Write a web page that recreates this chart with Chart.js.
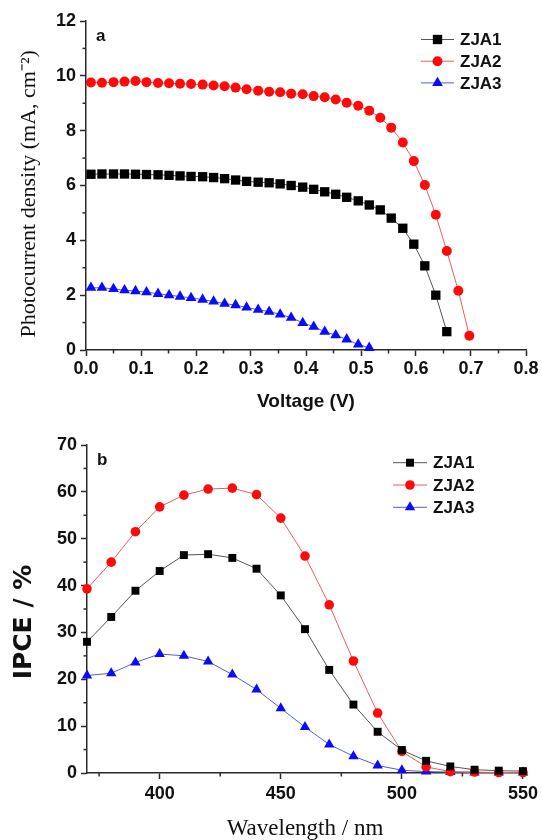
<!DOCTYPE html>
<html><head><meta charset="utf-8">
<script src="https://cdn.jsdelivr.net/npm/chart.js@4.4.1/dist/chart.umd.min.js"></script>
<style>
html,body{margin:0;padding:0;background:#fff;}
#wrap{position:relative;width:542px;height:840px;overflow:hidden;}
.c{position:absolute;left:0;width:542px;height:420px;}
</style></head><body>
<div id="wrap">
<div class="c" style="top:0"><canvas id="ca" width="542" height="420"></canvas></div>
<div class="c" style="top:420px"><canvas id="cb" width="542" height="420"></canvas></div>
</div>
<script>
// ---------- Panel a : J-V curves ----------
const SERIES_NAMES = ['ZJA1', 'ZJA2', 'ZJA3'];
const VOLTAGE = [0.009, 0.029, 0.050, 0.070, 0.090, 0.110, 0.131, 0.151, 0.171, 0.191,
                 0.212, 0.232, 0.252, 0.272, 0.292, 0.313, 0.333, 0.353, 0.373, 0.394,
                 0.414, 0.434, 0.454, 0.474, 0.495, 0.515, 0.535, 0.555, 0.576, 0.596,
                 0.616, 0.636, 0.656, 0.677, 0.697];
const J_ZJA1 = [6.41, 6.42, 6.42, 6.42, 6.41, 6.40, 6.39, 6.37, 6.35, 6.33,
                6.32, 6.29, 6.25, 6.20, 6.15, 6.12, 6.10, 6.06, 6.00, 5.94,
                5.86, 5.77, 5.68, 5.57, 5.44, 5.29, 5.11, 4.81, 4.44, 3.86,
                3.07, 2.00, 0.67];
const J_ZJA2 = [9.76, 9.75, 9.77, 9.79, 9.81, 9.77, 9.74, 9.73, 9.71, 9.70,
                9.68, 9.65, 9.62, 9.57, 9.51, 9.46, 9.42, 9.40, 9.35, 9.33,
                9.26, 9.22, 9.14, 9.02, 8.91, 8.73, 8.47, 8.11, 7.57, 6.89,
                6.02, 4.93, 3.61, 2.16, 0.52];
const J_ZJA3 = [2.27, 2.27, 2.23, 2.18, 2.15, 2.11, 2.05, 2.00, 1.95, 1.90,
                1.84, 1.77, 1.69, 1.64, 1.55, 1.47, 1.40, 1.30, 1.18, 0.99,
                0.85, 0.67, 0.54, 0.39, 0.20, 0.08];
const XA_MAJOR = [0, 0.1, 0.2, 0.3, 0.4, 0.5, 0.6, 0.7, 0.8];
const XA_LABELS = ['0.0', '0.1', '0.2', '0.3', '0.4', '0.5', '0.6', '0.7', '0.8'];
const XA_MINOR = [0.05, 0.15, 0.25, 0.35, 0.45, 0.55, 0.65, 0.75];
const YA_MAJOR = [0, 2, 4, 6, 8, 10, 12];
const YA_LABELS = ['0', '2', '4', '6', '8', '10', '12'];
const YA_MINOR = [1, 3, 5, 7, 9, 11];

// ---------- Panel b : IPCE ----------
const WAVELENGTH = [370, 380, 390, 400, 410, 420, 430, 440, 450, 460,
                    470, 480, 490, 500, 510, 520, 530, 540, 550];
const IPCE_ZJA1 = [28.0, 33.3, 38.9, 43.1, 46.5, 46.7, 45.9, 43.6, 37.9, 30.7,
                   22.0, 14.6, 8.8, 4.9, 2.6, 1.4, 0.7, 0.5, 0.4];
const IPCE_ZJA2 = [39.3, 45.0, 51.5, 56.8, 59.3, 60.6, 60.8, 59.4, 54.4, 46.3,
                   35.9, 23.9, 12.8, 4.6, 1.3, 0.3, 0.2, 0.1, 0.1];
const IPCE_ZJA3 = [20.8, 21.3, 23.6, 25.4, 25.0, 23.8, 21.0, 17.8, 13.8, 9.8,
                   6.1, 3.6, 1.6, 0.6, 0.3, 0.2, 0.1, 0.1, 0.1];
const XB_MAJOR = [400, 450, 500, 550];
const XB_LABELS = ['400', '450', '500', '550'];
const XB_MINOR = [375, 425, 475, 525];
const YB_MAJOR = [0, 10, 20, 30, 40, 50, 60, 70];
const YB_LABELS = ['0', '10', '20', '30', '40', '50', '60', '70'];
const YB_MINOR = [5, 15, 25, 35, 45, 55, 65];

// ---------- styles ----------
const AXIS = '#2a2a2a';
const SANS = "'Liberation Sans', Arial, sans-serif";
const SERIF = "'Liberation Serif', 'Times New Roman', serif";
const STYLE = [
  {fill: '#000000', line: '#555555', shape: 'rect'},
  {fill: '#ff0a0a', line: '#e06060', shape: 'circle'},
  {fill: '#0a0aff', line: '#5060d8', shape: 'triangle'}
];

function pts(xs, ys) { return ys.map((v, i) => ({x: xs[i], y: v})); }

function drawMarker(ctx, shape, r, x, y, color) {
  ctx.fillStyle = color;
  ctx.beginPath();
  if (shape === 'rect') {
    const s = Math.SQRT1_2 * r;
    ctx.rect(x - s, y - s, 2 * s, 2 * s);
  } else if (shape === 'circle') {
    ctx.arc(x, y, r, 0, Math.PI * 2);
  } else {
    ctx.moveTo(x, y - r);
    ctx.lineTo(x + r * Math.sin(2 * Math.PI / 3), y - r * Math.cos(2 * Math.PI / 3));
    ctx.lineTo(x + r * Math.sin(4 * Math.PI / 3), y - r * Math.cos(4 * Math.PI / 3));
    ctx.closePath();
  }
  ctx.fill();
}

const decor = {
  id: 'decor',
  afterDraw(chart, args, o) {
    const ctx = chart.ctx;
    const xs = chart.scales.x, ys = chart.scales.y;
    ctx.save();
    ctx.strokeStyle = AXIS; ctx.lineWidth = 1.5;
    o.xMinor.forEach(v => {
      const p = xs.getPixelForValue(v);
      ctx.beginPath(); ctx.moveTo(p, xs.top); ctx.lineTo(p, xs.top + 3.5); ctx.stroke();
    });
    o.yMinor.forEach(v => {
      const p = ys.getPixelForValue(v);
      ctx.beginPath(); ctx.moveTo(ys.right, p); ctx.lineTo(ys.right - 3.5, p); ctx.stroke();
    });
    // panel letter
    ctx.fillStyle = '#111';
    ctx.font = 'bold 17px ' + SANS;
    ctx.textBaseline = 'alphabetic'; ctx.textAlign = 'left';
    ctx.fillText(o.panel, chart.chartArea.left + 10, chart.chartArea.top + 20);
    // legend
    const L = o.legend;
    chart.data.datasets.forEach((ds, i) => {
      const yy = L.y0 + i * L.dy;
      ctx.strokeStyle = ds.borderColor; ctx.lineWidth = 1;
      ctx.beginPath(); ctx.moveTo(L.x0, yy); ctx.lineTo(L.x1, yy); ctx.stroke();
      drawMarker(ctx, STYLE[i].shape, ds.pointRadius, (L.x0 + L.x1) / 2, yy, ds.pointBackgroundColor);
      ctx.fillStyle = '#111';
      ctx.font = 'bold 17px ' + SANS;
      ctx.textBaseline = 'middle';
      ctx.fillText(ds.label, L.tx, yy + 1);
    });
    ctx.restore();
  }
};

function makeDatasets(xs, ysList, radii) {
  return ysList.map((ys, i) => ({
    label: SERIES_NAMES[i],
    data: pts(xs, ys),
    borderColor: STYLE[i].line,
    borderWidth: 1,
    pointStyle: STYLE[i].shape,
    pointRadius: radii[i],
    pointHoverRadius: radii[i],
    pointBackgroundColor: STYLE[i].fill,
    pointBorderColor: STYLE[i].fill,
    pointBorderWidth: 0,
    tension: 0,
    clip: false
  }));
}

function axis(min, max, majors, labels, fit, title, pad) {
  return {
    type: 'linear', min: min, max: max,
    afterBuildTicks: s => { s.ticks = majors.map(v => ({value: v})); },
    afterFit: fit,
    ticks: {
      autoSkip: false, maxRotation: 0, padding: pad, color: '#111',
      font: {family: SANS, size: 18, weight: 'bold'},
      callback: v => { const k = majors.indexOf(v); return k >= 0 ? labels[k] : ''; }
    },
    grid: {display: true, drawOnChartArea: false, drawTicks: true, tickLength: 6,
           tickColor: AXIS, tickWidth: 1.5},
    border: {display: true, color: AXIS, width: 1.5},
    title: title
  };
}

Chart.defaults.animation = false;

new Chart(document.getElementById('ca'), {
  type: 'line',
  data: {datasets: makeDatasets(VOLTAGE, [J_ZJA1, J_ZJA2, J_ZJA3], [6.6, 5, 6.2])},
  options: {
    responsive: false, devicePixelRatio: 1, animation: false,
    layout: {padding: {left: 0, right: 16, top: 21, bottom: 0}},
    plugins: {legend: {display: false}, tooltip: {enabled: false},
      decor: {panel: 'a', xMinor: XA_MINOR, yMinor: YA_MINOR,
              legend: {x0: 421, x1: 454, tx: 460, y0: 39.5, dy: 21.7}}},
    scales: {
      x: axis(0, 0.8, XA_MAJOR, XA_LABELS, s => { s.height = 70; },
        {display: true, text: 'Voltage (V)', color: '#111',
         font: {family: SANS, size: 19, weight: 'bold', lineHeight: 1.2},
         padding: {top: 0, bottom: 7}}, 2),
      y: axis(0, 12, YA_MAJOR, YA_LABELS, s => { s.width = 86; },
        {display: true, text: 'Photocurrent density (mA, cm\u207B\u00B2)   ', color: '#111',
         font: {family: SERIF, size: 22, weight: 'normal', lineHeight: 1.2},
         padding: {top: 16, bottom: 0}}, 4)
    }
  },
  plugins: [decor]
});

new Chart(document.getElementById('cb'), {
  type: 'line',
  data: {datasets: makeDatasets(WAVELENGTH, [IPCE_ZJA1, IPCE_ZJA2, IPCE_ZJA3], [5.6, 4.8, 6])},
  options: {
    responsive: false, devicePixelRatio: 1, animation: false,
    layout: {padding: {left: 0, right: 15, top: 25, bottom: 0}},
    plugins: {legend: {display: false}, tooltip: {enabled: false},
      decor: {panel: 'b', xMinor: XB_MINOR, yMinor: YB_MINOR,
              legend: {x0: 393, x1: 427, tx: 433, y0: 42.7, dy: 22.3}}},
    scales: {
      x: axis(370, 550, XB_MAJOR, XB_LABELS, s => { s.height = 67; },
        {display: true, text: 'Wavelength / nm', color: '#111',
         font: {family: SERIF, size: 23, weight: 'normal', lineHeight: 1.0},
         padding: {top: 0, bottom: 0}}, 4),
      y: axis(0, 70, YB_MAJOR, YB_LABELS, s => { s.width = 87; },
        {display: true, text: 'IPCE / %   ', color: '#111',
         font: {family: "'DejaVu Sans', Verdana, sans-serif", size: 25, weight: 'bold', lineHeight: 1.2},
         padding: {top: 9, bottom: 0}}, 4)
    }
  },
  plugins: [decor]
});
</script>
</body></html>
